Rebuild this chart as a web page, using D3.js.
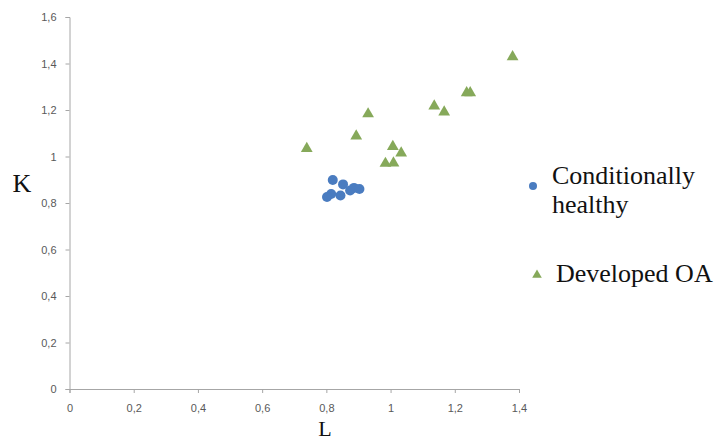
<!DOCTYPE html>
<html>
<head>
<meta charset="utf-8">
<script src="https://cdn.jsdelivr.net/npm/d3@7"></script>
<style>
  body { margin: 0; background: #fff; }
  .tick text { font-family: "Liberation Sans", Arial, sans-serif; font-size: 11px; fill: #595959; }
  .axis path, .axis line { stroke: #a6a6a6; }
</style>
</head>
<body>
<div id="chart"></div>
<script>
// Conditionally healthy (blue circles)
const healthyL = [0.820, 0.852, 0.886, 0.903, 0.874, 0.844, 0.815, 0.802];
const healthyK = [0.899, 0.880, 0.865, 0.860, 0.854, 0.832, 0.839, 0.826];

// Developed OA (green triangles)
const oaL = [1.380, 1.237, 1.248, 1.136, 1.167, 0.930, 0.893, 0.739, 1.007, 1.033, 0.984, 1.009];
const oaK = [1.429, 1.274, 1.274, 1.217, 1.191, 1.183, 1.088, 1.034, 1.043, 1.015, 0.970, 0.972];

const xTicks = [0, 0.2, 0.4, 0.6, 0.8, 1, 1.2, 1.4];
const yTicks = [0, 0.2, 0.4, 0.6, 0.8, 1, 1.2, 1.4, 1.6];

const width = 717, height = 441;
const margin = { top: 17, right: 198, bottom: 52, left: 69.5 };

const svg = d3.select("#chart")
    .append("svg")
    .attr("width", width)
    .attr("height", height);

const x = d3.scaleLinear()
    .domain([0, 1.4])
    .range([margin.left, width - margin.right]);

const y = d3.scaleLinear()
    .domain([0, 1.6])
    .range([height - margin.bottom, margin.top]);

const fmt = d => String(d).replace(".", ",");

svg.append("g")
    .attr("class", "axis")
    .attr("transform", "translate(0," + y(0) + ")")
    .call(d3.axisBottom(x).tickValues(xTicks).tickFormat(fmt).tickSize(4).tickSizeOuter(4).tickPadding(11));

svg.append("g")
    .attr("class", "axis")
    .attr("transform", "translate(" + x(0) + ",0)")
    .call(d3.axisLeft(y).tickValues(yTicks).tickFormat(fmt).tickSize(4).tickSizeOuter(4).tickPadding(9));

const healthy = healthyL.map((l, i) => ({ l, k: healthyK[i] }));
const oa = oaL.map((l, i) => ({ l, k: oaK[i] }));

const blue = "#4a7cc0", green = "#86a95a";

svg.selectAll(".healthy")
    .data(healthy)
    .enter()
    .append("circle")
    .attr("class", "healthy")
    .attr("cx", d => x(d.l))
    .attr("cy", d => y(d.k))
    .attr("r", 5)
    .attr("fill", blue);

const tri = d3.symbol().type(d3.symbolTriangle).size(60);

svg.selectAll(".oa")
    .data(oa)
    .enter()
    .append("path")
    .attr("class", "oa")
    .attr("d", tri)
    .attr("transform", d => "translate(" + x(d.l) + "," + y(d.k) + ")")
    .attr("fill", green);

// axis titles
const serif = '"Liberation Serif", "Times New Roman", serif';

svg.append("text")
    .attr("x", 22)
    .attr("y", 192)
    .attr("text-anchor", "middle")
    .style("font-family", serif)
    .style("font-size", "26px")
    .attr("fill", "#111")
    .text("K");

svg.append("text")
    .attr("x", 325)
    .attr("y", 436)
    .attr("text-anchor", "middle")
    .style("font-family", serif)
    .style("font-size", "22px")
    .attr("fill", "#111")
    .text("L");

// legend
const legend = svg.append("g");

legend.append("circle")
    .attr("cx", 533)
    .attr("cy", 186)
    .attr("r", 4)
    .attr("fill", blue);

legend.append("text")
    .attr("x", 552)
    .attr("y", 184)
    .style("font-family", serif)
    .style("font-size", "26px")
    .attr("fill", "#111")
    .text("Conditionally");

legend.append("text")
    .attr("x", 552)
    .attr("y", 213)
    .style("font-family", serif)
    .style("font-size", "26px")
    .attr("fill", "#111")
    .text("healthy");

legend.append("path")
    .attr("d", d3.symbol().type(d3.symbolTriangle).size(40))
    .attr("transform", "translate(537,275)")
    .attr("fill", green);

legend.append("text")
    .attr("x", 556)
    .attr("y", 282)
    .style("font-family", serif)
    .style("font-size", "26px")
    .attr("fill", "#111")
    .text("Developed OA");
</script>
</body>
</html>
